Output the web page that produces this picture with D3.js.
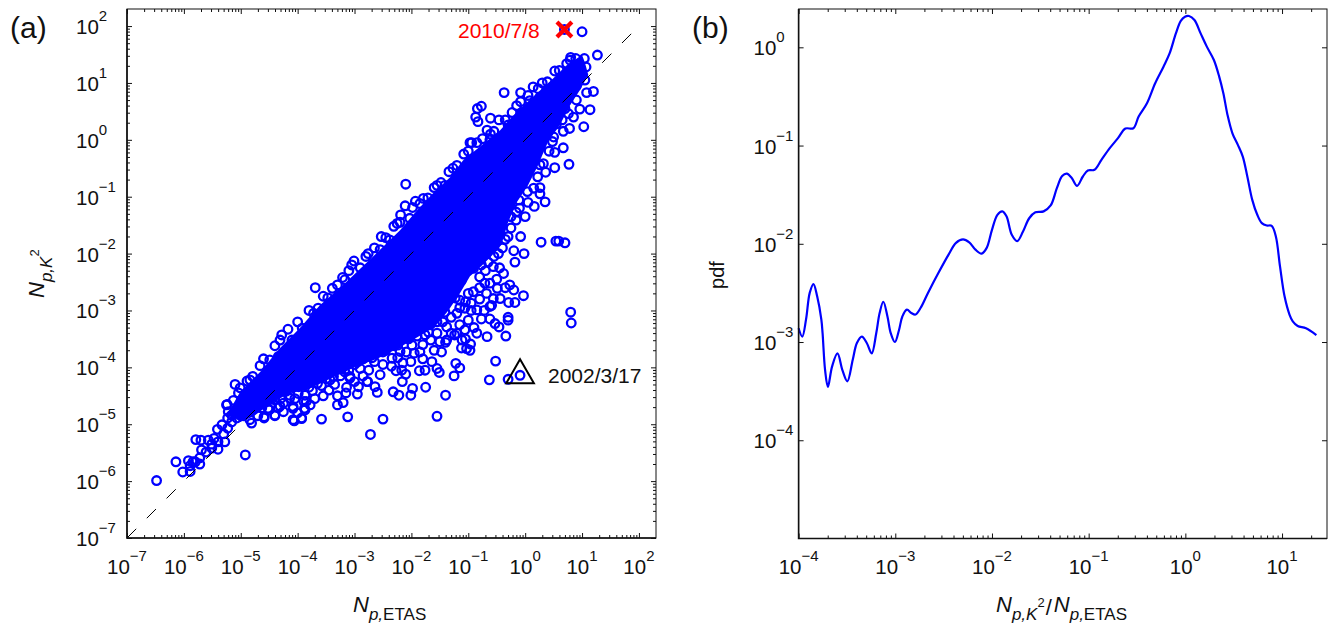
<!DOCTYPE html>
<html>
<head>
<meta charset="utf-8">
<script src="https://cdn.jsdelivr.net/npm/d3@7"></script>
<style>
  body { margin: 0; background: #fff; }
  text { font-family: "Liberation Sans", Arimo, sans-serif; fill: #111; }
</style>
</head>
<body>
<script>
'use strict';

// all values below are log10 exponents

// panel (a): rings that can be told apart, [N_p,ETAS, N_p,K2]
const tailRings = [[-6.48,-5.99],[-6.14,-5.66],[-6.02,-5.84],[-5.92,-5.64],[-5.89,-5.83],[-5.89,-5.73],[-5.80,-5.66],
  [-5.72,-5.70],[-5.79,-5.27],[-5.70,-5.28],[-5.69,-5.45],[-5.57,-5.28],[-5.51,-5.42],[-5.40,-5.44],[-5.28,-5.31],
  [-5.41,-5.09],[-5.47,-5.25],[-5.16,-4.84],[-5.22,-4.78],[-5.04,-4.45],[-5.84,-5.66],[-5.72,-5.59],
  [-5.61,-5.49],[-5.51,-5.35],[-5.40,-5.31],[-5.30,-5.17],[-5.23,-5.07],[-5.16,-4.96],[-5.07,-4.89],[-5.33,-5.01],
  [-5.23,-4.89],[-5.12,-4.79],[-5.01,-4.68],[-4.96,-4.82],[-4.81,-4.98],[-4.59,-4.89],[-4.40,-4.84],[-4.06,-4.94],
  [-3.93,-4.90],[-4.08,-4.72],[-3.87,-4.75],[-3.89,-4.60],[-3.99,-4.46],[-4.14,-4.54],[-4.25,-4.63],[-4.34,-4.71],[-4.52,-4.72]];

const upperRings = [[-2.10,-0.78],[-2.53,-1.70],[-2.11,-1.16],[-2.19,-1.32],[-2.25,-1.47],[-2.31,-1.52],[-2.76,-2.00],
  [-3.01,-2.13],[-3.05,-2.20],[-3.21,-2.42],[-3.39,-2.61],[-3.69,-2.60],[-2.55,-1.93],[-1.93,-1.08],[-1.79,-1.03],
  [-1.98,-1.19],[-1.60,-0.84],[-1.48,-0.75],[-1.34,-0.56],[-1.27,-0.50],[-1.08,-0.25],[-0.97,-0.05],[-1.16,-0.62],
  [-3.72,-3.05],[-5.01,-4.36],[-4.84,-4.22],[-4.49,-3.87],[-4.10,-3.52],[-3.92,-3.31],[-3.64,-2.96],[-3.47,-2.78],
  [-3.17,-2.46],[-2.90,-2.25],[-2.38,-1.76],[-2.03,-1.38],[-1.71,-1.02],[-1.41,-0.80],[-4.31,-3.52],[-4.28,-3.43],
  [-4.17,-3.33],[-4.66,-3.97],[-4.34,-3.81],[-4.79,-4.16],[-4.89,-4.24],[-5.10,-4.30],[-5.13,-4.58],[-5.24,-4.65],[-5.25,-4.66],
  [-4.60,-3.85],[-4.40,-3.62],[-4.00,-3.20],[-3.80,-3.00],[-3.55,-2.75],[-3.30,-2.55],[-3.10,-2.30],[-2.80,-2.05],[-2.65,-1.90],
  [-2.45,-1.72],[-2.20,-1.45],[-1.85,-1.12],[-1.55,-0.80],[-1.20,-0.45],[-1.00,-0.20],[-0.75,0.02],[-0.55,0.15],[-0.35,0.35],
  [-0.15,0.60],[0.05,0.78],[0.30,1.00],[0.60,1.22],[0.80,1.45]];

const topRings = [[1.00,1.90],[0.69,1.94],[1.27,1.49],[1.04,1.43],[0.89,1.43],[1.07,1.28],[0.73,1.34],[0.52,1.21],
  [0.79,1.40],[0.90,1.31],[1.05,1.05],[1.20,0.85],[1.08,0.83],[1.14,0.53],[0.96,0.54],[1.03,0.23],[0.90,0.70],
  [0.76,0.46],[-0.37,0.83],[-0.08,0.83],[0.14,0.93],[-0.08,0.67],[0.39,1.02],[0.23,0.90],[-0.77,0.59],[-0.84,0.55],
  [-0.87,0.40],[-0.83,0.32],[-0.61,0.38],[-0.46,0.35],[-0.67,0.17],[-0.61,0.10],[-0.23,0.48],[0.08,0.69],[-0.94,-0.05],
  [-0.85,-0.05],[0.67,0.15],[0.67,-0.14],[0.52,-0.22],[0.52,-0.49],[0.77,-0.43],[0.36,-0.57],[0.48,-0.03],[0.26,-0.44],
  [0.26,0.75],[0.52,0.96],[0.87,1.19],[-0.06,0.48],[-0.30,0.26],[-0.62,0.00],[-0.97,-0.36]];

const lowerRings = [[-0.34,-3.45],[-0.46,-3.29],[-0.30,-3.17],[-0.52,-3.89],[-0.63,-4.22],[-0.30,-4.21],[-0.09,-4.14],
  [-1.15,-4.01],[-1.22,-3.93],[-1.25,-4.15],[-1.51,-4.09],[-1.55,-4.02],[-1.76,-4.05],[-1.86,-4.06],[-1.75,-4.35],
  [-1.40,-4.49],[-1.55,-4.86],[-1.98,-4.37],[-2.01,-4.49],[-2.22,-4.49],[-2.32,-4.43],[-2.50,-4.91],[-3.12,-4.87],
  [-3.58,-4.91],[-2.72,-5.18],[-3.20,-4.62],[-3.30,-4.66],[-2.60,-4.44],[-2.64,-4.34],[-2.95,-4.47],[-3.14,-4.35],
  [-2.16,-4.25],[-2.10,-4.12],[-0.97,-3.70],[-1.12,-3.66],[-1.11,-3.52],[-0.96,-3.59],[-1.47,-3.73],[-1.64,-3.90],
  [-1.40,-3.56],[-1.24,-3.43],[-3.78,-4.66],[-3.88,-4.72],[-3.93,-4.89],[-4.08,-4.92],[-4.40,-4.85],[-4.59,-4.87],
  [-4.92,-5.54],[-4.08,-4.69],[-4.31,-4.68],[-2.93,-4.34],[-2.78,-4.25],[-3.08,-4.19],[-2.17,-4.05],[-2.27,-4.06],
  [-2.55,-4.13],[-2.34,-3.84],[-2.01,-3.90],[-2.77,-4.25],[-2.90,-4.02],[-3.08,-4.16],[-3.37,-4.16],[-3.23,-4.03],
  [-3.58,-4.32],[-3.74,-4.41],[-3.98,-4.34],[-2.72,-3.67],[-2.50,-3.73],[-2.24,-3.83],[-2.09,-3.73],[-1.85,-3.73],
  [-1.38,-3.52],[-1.20,-3.40],[-1.03,-3.67],[-1.06,-3.34]];

const lacyRings = [[0.35,-1.09],[0.16,-1.17],[0.26,-0.95],[0.26,-0.84],[0.04,-0.91],[-0.11,-1.06],[-0.16,-1.27],[-0.16,-1.41],
  [-0.30,-1.70],[0.28,-1.80],[0.54,-1.78],[0.59,-1.78],[0.70,-1.81],[-0.02,-2.00],[-0.47,-2.00],[-0.56,-2.23],[-0.38,-2.35],
  [-0.27,-2.55],[-0.20,-2.64],[-0.03,-2.74],[-0.18,-2.86],[-0.29,-2.86],[-0.49,-2.61],[-0.44,-2.79],[-0.59,-2.91],[-0.30,-3.12],
  [0.80,-3.03],[0.81,-3.22],[-0.62,-2.52],[-0.71,-2.52],[-0.68,-2.70],[-0.56,-2.79],[-0.62,-2.93],[-0.80,-2.41],[-0.91,-2.26],
  [-0.77,-2.20],[-0.91,-2.67],[-1.06,-2.96],[-0.85,-2.99],[-0.77,-3.15],[-0.62,-3.15],[-0.53,-3.23],[-1.00,-3.17],[-1.20,-3.05],
  [-0.85,-3.40],[-0.67,-3.46],[-1.38,-3.29],[-0.95,-2.87],[-1.15,-2.82],[-1.55,-3.20],[-1.76,-3.43],[-1.99,-3.61],[-1.66,-3.52],
  [-1.88,-3.31],[-2.24,-3.61],[-2.47,-3.52],[-2.69,-3.83],[-2.94,-3.90],[-3.17,-4.08],[-3.43,-4.22],[-3.64,-4.19],[-3.87,-4.49],
  [-4.14,-4.49],[-4.40,-4.57],[-4.63,-4.71],[-4.84,-4.92],[-1.33,-2.63],[-1.12,-2.47],[-1.41,-3.03],[-1.23,-2.78],[-1.67,-3.25]];

// estimated spots in the part of the cloud where the rings are packed but not yet solid
const packedLowRings = [[-4.95,-4.85],[-4.85,-4.75],[-4.75,-4.65],[-4.70,-4.85],[-4.60,-4.60],[-4.50,-4.75],[-4.45,-4.55],
  [-4.30,-4.55],[-4.25,-4.78],[-4.20,-4.42],[-4.05,-4.55],[-4.00,-4.80],[-3.95,-4.30],[-3.85,-4.60],[-3.80,-4.35],[-3.70,-4.55],
  [-3.65,-4.28],[-3.55,-4.50],[-3.50,-4.20],[-3.45,-4.40],[-3.35,-4.30],[-3.30,-4.50],[-3.25,-4.15],[-3.15,-4.45],[-3.10,-4.05],
  [-3.00,-4.25],[-3.00,-3.95],[-2.85,-4.15],[-2.85,-3.85],[-2.75,-4.05],[-2.65,-3.90],[-2.60,-3.72],[-2.50,-3.95],[-2.45,-3.70],
  [-2.35,-3.98],[-2.30,-3.62],[-2.20,-3.72],[-2.15,-3.92],[-2.05,-3.50],[-1.95,-3.75],[-1.90,-3.45],[-1.80,-3.85],[-1.80,-3.60]];

const packedHighRings = [[-1.70,-3.38],[-1.60,-3.70],[-1.55,-3.40],[-1.50,-3.55],[-1.45,-3.20],[-1.30,-3.40],[-1.30,-3.12],
  [-1.15,-3.25],[-1.15,-2.95],[-1.05,-3.50],[-1.00,-2.70],[-1.05,-2.85],[-0.95,-3.00],[-0.90,-3.30],[-0.80,-2.80],[-0.80,-2.60],
  [-0.72,-3.00],[-0.70,-2.30],[-0.65,-2.15],[-0.75,-2.00],[-0.55,-2.05],[-0.50,-2.45],[-0.45,-2.25],[-0.40,-1.90],[-0.35,-2.60],
  [-0.35,-1.75],[-0.25,-1.55],[-0.20,-1.95],[-0.18,-2.15],[-0.08,-1.70],[-0.25,-1.35],[-0.10,-1.20],[0.00,-1.35],[0.05,-1.10],
  [0.15,-0.85],[0.22,-0.65],[0.32,-0.42],[0.42,-0.20],[0.50,0.05],[0.55,0.28],[0.65,0.35],[0.70,0.55],[0.78,0.20],[0.85,0.40],[0.90,0.95]];

// rings overlap into solid blue here, so the merged area is drawn as one outline
const denseOutline = [[-5.22,-4.80],[-5.01,-4.43],[-4.66,-4.08],[-4.31,-3.66],[-3.96,-3.31],[-3.61,-2.91],[-3.20,-2.55],
  [-2.61,-1.99],[-2.20,-1.59],[-1.90,-1.24],[-1.62,-0.94],[-1.32,-0.66],[-1.09,-0.36],[-0.83,-0.15],[-0.44,0.17],[-0.15,0.49],
  [0.13,0.75],[0.49,1.08],[0.73,1.31],[1.00,1.49],[1.05,1.36],[1.11,1.14],[0.96,0.87],[0.79,0.61],[0.61,0.26],[0.40,-0.04],
  [0.22,-0.46],[0.05,-0.80],[-0.15,-1.10],[-0.30,-1.45],[-0.42,-1.85],[-0.60,-2.05],[-0.80,-2.25],[-0.97,-2.40],[-1.15,-2.70],
  [-1.35,-3.00],[-1.60,-3.30],[-1.95,-3.50],[-2.30,-3.70],[-2.60,-3.85],[-2.96,-3.98],[-3.43,-4.20],[-3.84,-4.40],[-4.14,-4.45],
  [-4.49,-4.65],[-4.79,-4.87],[-5.01,-4.96]];

const diagonal = [-7, 1.87];
const eventRed = [0.69, 1.94];
const eventBlack = [-0.09, -4.14];

// panel (b): pdf curve
const pdfX = [-4.000,-3.962,-3.923,-3.885,-3.846,-3.808,-3.765,-3.752,-3.726,-3.697,-3.654,-3.598,-3.547,-3.496,-3.440,-3.397,
  -3.346,-3.295,-3.244,-3.197,-3.162,-3.124,-3.081,-3.047,-3.004,-2.962,-2.927,-2.880,-2.833,-2.791,-2.739,-2.662,-2.556,-2.449,
  -2.372,-2.299,-2.235,-2.171,-2.107,-2.056,-2.000,-1.944,-1.893,-1.850,-1.795,-1.739,-1.679,-1.615,-1.551,-1.466,-1.393,-1.329,
  -1.274,-1.226,-1.175,-1.120,-1.060,-1.009,-0.940,-0.868,-0.782,-0.697,-0.620,-0.538,-0.483,-0.397,-0.312,-0.226,-0.162,-0.098,
  -0.047,-0.004,0.038,0.094,0.158,0.222,0.295,0.350,0.393,0.436,0.487,0.543,0.594,0.641,0.692,0.744,0.791,0.842,0.893,0.936,
  0.979,1.026,1.077,1.111,1.162,1.248,1.355];
const pdfY = [-2.86,-2.945,-2.77,-2.50,-2.41,-2.535,-2.77,-2.91,-3.286,-3.456,-3.25,-3.116,-3.286,-3.40,-3.18,-3.01,
  -2.945,-3.01,-3.116,-2.91,-2.705,-2.59,-2.74,-2.91,-3.0,-2.88,-2.74,-2.67,-2.705,-2.72,-2.654,-2.50,-2.30,-2.11,
  -1.99,-1.956,-1.986,-2.06,-2.10,-2.044,-1.858,-1.705,-1.67,-1.72,-1.908,-1.973,-1.875,-1.74,-1.68,-1.67,-1.61,-1.434,
  -1.31,-1.285,-1.33,-1.41,-1.315,-1.254,-1.247,-1.146,-1.027,-0.925,-0.827,-0.824,-0.705,-0.57,-0.366,-0.197,-0.06,0.142,
  0.27,0.312,0.319,0.278,0.142,0.007,-0.129,-0.298,-0.468,-0.688,-0.875,-0.993,-1.112,-1.315,-1.553,-1.705,-1.79,-1.814,-1.817,-1.925,
  -2.23,-2.535,-2.72,-2.79,-2.837,-2.86,-2.93];

// tick exponents
const ticksAX = [-7,-6,-5,-4,-3,-2,-1,0,1,2];
const ticksAY = [-7,-6,-5,-4,-3,-2,-1,0,1,2];
const ticksBX = [-4,-3,-2,-1,0,1];
const ticksBY = [-4,-3,-2,-1,0];

const pow10 = e => Math.pow(10, e);
const blue = '#0000ff';

const svg = d3.select('body').append('svg')
  .attr('width', 1328)
  .attr('height', 631);

// minor ticks at 2..9 of every decade inside the domain
function minorTicks(scale) {
  const d = scale.domain();
  const out = [];
  for (let e = Math.floor(Math.log10(d[0])); e < Math.log10(d[1]); e++) {
    for (let m = 2; m < 10; m++) {
      const v = m * pow10(e);
      if (v > d[0] && v < d[1]) out.push(v);
    }
  }
  return out;
}

function expText(sel, exp) {
  sel.append('tspan').text('10');
  sel.append('tspan')
    .attr('dy', -13)
    .style('font-size', '15px')
    .text(exp < 0 ? '\u2212' + (-exp) : exp);
}

// tick marks for one side; negative size points them into the box
function tickSide(g, axis, values, size, tx, ty) {
  g.append('g')
    .attr('transform', `translate(${tx},${ty})`)
    .call(axis.tickValues(values).tickSize(size).tickSizeOuter(0).tickFormat(''))
    .call(s => s.select('.domain').remove())
    .call(s => s.selectAll('line').attr('stroke', '#111').attr('stroke-width', 1));
}

// box, inward ticks on all four sides, and 10^n labels
function drawAxes(g, x, y, xTicks, yTicks, yLabelX, yMinor) {
  const [x0, x1] = x.range();
  const [y0, y1] = y.range();

  [[d3.axisBottom, y0], [d3.axisTop, y1]].forEach(([make, ty]) => {
    tickSide(g, make(x), xTicks.map(pow10), -5, 0, ty);
    tickSide(g, make(x), minorTicks(x), -3, 0, ty);
  });
  [[d3.axisLeft, x0], [d3.axisRight, x1]].forEach(([make, tx]) => {
    tickSide(g, make(y), yTicks.map(pow10), -5, tx, 0);
    if (yMinor) tickSide(g, make(y), minorTicks(y), -3, tx, 0);
  });

  g.append('rect')
    .attr('x', x0).attr('y', y1)
    .attr('width', x1 - x0).attr('height', y0 - y1)
    .attr('fill', 'none').attr('stroke', '#111').attr('stroke-width', 1);
  g.append('path')
    .attr('d', `M${x0},${y1}V${y0}H${x1}`)
    .attr('fill', 'none').attr('stroke', '#111').attr('stroke-width', 1.6);

  xTicks.forEach(e => {
    g.append('text')
      .attr('x', x(pow10(e))).attr('y', 574)
      .attr('text-anchor', 'middle')
      .style('font-size', '20.5px')
      .call(expText, e);
  });
  yTicks.forEach(e => {
    g.append('text')
      .attr('x', yLabelX).attr('y', y(pow10(e)) + 8)
      .style('font-size', '20.5px')
      .call(expText, e);
  });
}

function panelLetter(x, label) {
  svg.append('text')
    .attr('x', x).attr('y', 38)
    .style('font-size', '30px')
    .text(label);
}

// N with an italic subscript
function addN(sel, sub, first) {
  sel.append('tspan').attr('dy', first ? 0 : -3).attr('dx', first ? 0 : 2).style('font-style', 'italic').style('font-size', '22px').text('N');
  sel.append('tspan').attr('dy', 8).style('font-style', 'italic').style('font-size', '17px').text(sub);
}

// panel (a)
const xA = d3.scaleLog().domain([1e-7, pow10(2.3)]).range([127, 656]);
const yA = d3.scaleLog().domain([1e-7, pow10(2.3)]).range([538, 9]);
const gA = svg.append('g');

gA.append('path')
  .attr('d', d3.line().x(d => xA(pow10(d[0]))).y(d => yA(pow10(d[1])))(denseOutline) + 'Z')
  .attr('fill', blue);

const rings = [].concat(tailRings, upperRings, topRings, lowerRings, lacyRings, packedLowRings, packedHighRings);
gA.selectAll('.ring')
  .data(rings)
  .enter()
  .append('circle')
    .attr('class', 'ring')
    .attr('cx', d => xA(pow10(d[0])))
    .attr('cy', d => yA(pow10(d[1])))
    .attr('r', 4.3)
    .attr('fill', 'none')
    .attr('stroke', blue)
    .attr('stroke-width', 2.3);

gA.append('line')
  .attr('x1', xA(pow10(diagonal[0]))).attr('y1', yA(pow10(diagonal[0])))
  .attr('x2', xA(pow10(diagonal[1]))).attr('y2', yA(pow10(diagonal[1])))
  .attr('stroke', '#000').attr('stroke-width', 1)
  .attr('stroke-dasharray', '13,15');

gA.append('path')
  .attr('d', d3.symbol(d3.symbolTimes, 147)())
  .attr('transform', `translate(${xA(pow10(eventRed[0]))},${yA(pow10(eventRed[1]))})`)
  .attr('fill', 'none').attr('stroke', '#ff0000').attr('stroke-width', 4.2);

gA.append('path')
  .attr('d', d3.symbol(d3.symbolTriangle, 332)())
  .attr('transform', `translate(${xA(pow10(eventBlack[0]))},${yA(pow10(eventBlack[1]))})`)
  .attr('fill', 'none').attr('stroke', '#000').attr('stroke-width', 2);

gA.append('text')
  .attr('x', 458).attr('y', 38)
  .style('font-size', '21px').style('fill', '#ff0000')
  .text('2010/7/8');
gA.append('text')
  .attr('x', 548).attr('y', 383)
  .style('font-size', '21px')
  .text('2002/3/17');

drawAxes(gA, xA, yA, ticksAX, ticksAY, 76, true);
panelLetter(10, '(a)');

svg.append('text')
  .attr('x', 353).attr('y', 612)
  .call(addN, 'p,', true)
  .call(s => s.append('tspan').style('font-size', '17px').text('ETAS'));

svg.append('text')
  .attr('transform', 'translate(44,298)rotate(-90)')
  .call(addN, 'p,K', true)
  .call(s => s.append('tspan').attr('dy', -13).style('font-size', '13px').text('2'));

// panel (b)
const xB = d3.scaleLog().domain([1e-4, pow10(1.465)]).range([798.6, 1327]);
const yB = d3.scaleLog().domain([1e-5, pow10(0.39)]).range([538.5, 9]);
const gB = svg.append('g');

const pdfLine = d3.line()
  .x(d => xB(pow10(d[0])))
  .y(d => yB(pow10(d[1])))
  .curve(d3.curveCatmullRom);

gB.append('path')
  .datum(pdfX.map((v, i) => [v, pdfY[i]]))
  .attr('d', pdfLine)
  .attr('fill', 'none')
  .attr('stroke', blue)
  .attr('stroke-width', 2.2);

drawAxes(gB, xB, yB, ticksBX, ticksBY, 753.5, false);
panelLetter(692, '(b)');

svg.append('text')
  .attr('transform', 'translate(724,275)rotate(-90)')
  .attr('text-anchor', 'middle')
  .style('font-size', '20px')
  .text('pdf');

svg.append('text')
  .attr('x', 996).attr('y', 612)
  .call(addN, 'p,K', true)
  .call(s => s.append('tspan').attr('dy', -13).style('font-size', '13px').text('2'))
  .call(s => s.append('tspan').attr('dy', 8).attr('dx', 1).style('font-size', '22px').text('/'))
  .call(addN, 'p,', false)
  .call(s => s.append('tspan').style('font-size', '17px').text('ETAS'));
</script>
</body>
</html>
